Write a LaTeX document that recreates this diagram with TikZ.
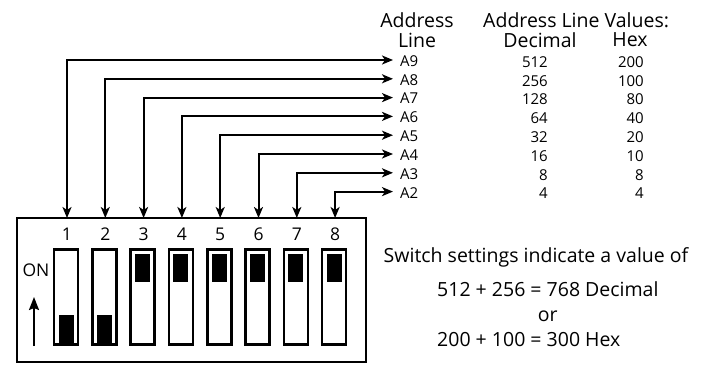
\documentclass[tikz,border=0pt]{standalone}
\usepackage{fontspec}
\setmainfont{Open Sans}
\usepackage{tikz}
\usetikzlibrary{calc,arrows.meta}
\tikzstyle{switchbox}=[rectangle,draw=black,line width=2.6pt,fill=white,
                      minimum width=24pt,minimum height=95pt,inner sep=0pt]
\tikzstyle{knob}=[rectangle,fill=black,minimum width=15pt,minimum height=28pt,inner sep=0pt]
\tikzstyle{addrline}=[line width=2pt,{Stealth[length=11pt,width=9pt,inset=3pt]}-{Stealth[length=11pt,width=9pt,inset=3pt]}]
\tikzstyle{tabletext}=[font=\fontsize{15}{16}\selectfont,inner sep=0pt]
\tikzstyle{headtext}=[font=\fontsize{19.5}{20}\selectfont,inner sep=0pt]
\tikzstyle{bigtext}=[font=\fontsize{19.5}{20}\selectfont,inner sep=0pt]
\tikzstyle{switchtext}=[font=\fontsize{17.5}{18}\selectfont,inner sep=0pt]
\newcommand\swspacing{38.3}
\newcommand\linespacing{18.8}

\begin{document}
\begin{tikzpicture}[x=1pt,y=-1pt]
    \useasboundingbox (0,0) rectangle (708,364);
    % housing of the switch block
    \draw [line width=2.3pt] (17,218) rectangle (366,362);
    \node [switchtext] (On) at (36,270) {ON};
    \draw [line width=2pt,-{Stealth[length=13pt,width=10pt,inset=2pt]}] (34,346) -- (34,297);
    % the eight switches
    \foreach \i in {1,...,8} {
        \coordinate (top\i) at ($(67+\swspacing*\i-\swspacing,218)$);
        \node [switchtext] (num\i) at ($(top\i)+(0,16)$) {\i};
        \node [switchbox] (sw\i) at ($(top\i)+(-1,79)$) {};
    }
    \foreach \i in {1,2} {
        \node [knob] (knob\i) at ($(sw\i.south)+(0,-17)$) {};
    }
    \foreach \i in {3,...,8} {
        \node [knob] (knob\i) at ($(sw\i.north)+(0,20)$) {};
    }
    % address lines A9 ... A2
    \node [headtext] (AddrHead) at (417,20) {Address};
    \node [headtext] (LineHead) at (417,40) {Line};
    \node [headtext,anchor=west] (ValHead) at (483,20) {Address Line Values:};
    \node [headtext] (DecHead) at (540,40) {Decimal};
    \node [headtext] (HexHead) at (630,40) {Hex};
    \foreach \i/\a/\d/\h in {1/9/512/200,2/8/256/100,3/7/128/80,4/6/64/40,
                             5/5/32/20,6/4/16/10,7/3/8/8,8/2/4/4} {
        \node [tabletext,anchor=west] (A\a) at ($(400,61+\linespacing*\i-\linespacing)$) {A\a};
        \node [tabletext,anchor=east] (dec\a) at ($(548,62+\linespacing*\i-\linespacing)$) {\d};
        \node [tabletext,anchor=east] (hex\a) at ($(644,62+\linespacing*\i-\linespacing)$) {\h};
    }
    \draw [addrline] (top1) |- ($(A9.west)+(-7,-1)$);
    \draw [addrline] (top2) |- ($(A8.west)+(-7,-1)$);
    \draw [addrline] (top3) |- ($(A7.west)+(-7,-1)$);
    \draw [addrline] (top4) |- ($(A6.west)+(-7,-1)$);
    \draw [addrline] (top5) |- ($(A5.west)+(-7,-1)$);
    \draw [addrline] (top6) |- ($(A4.west)+(-7,-1)$);
    \draw [addrline] (top7) |- ($(A3.west)+(-7,-1)$);
    \draw [addrline] (top8) |- ($(A2.west)+(-7,-1)$);
    % resulting value
    \node [bigtext] (Setting) at (536,257) {Switch settings indicate a value of};
    \node [bigtext,anchor=west] (DecSum) at (437,289) {512 + 256 = 768 Decimal};
    \node [bigtext] (Or) at (DecSum.center |- 0,316) {or};
    \node [bigtext,anchor=west] (HexSum) at (437,340) {200 + 100 = 300 Hex};
\end{tikzpicture}
\end{document}
